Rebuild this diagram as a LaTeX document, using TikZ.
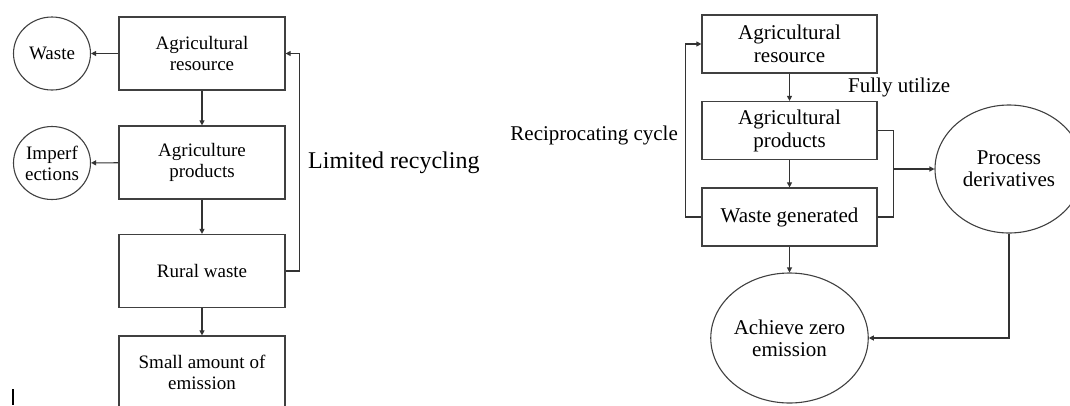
\documentclass[tikz,border=0pt]{standalone}
\usepackage{fontspec}
\setmainfont{Liberation Serif}
\usetikzlibrary{arrows.meta,shapes.geometric}
\begin{document}
\begin{tikzpicture}[x=1pt, y=-1pt,
    box/.style={draw=black!75, line width=1.2pt, minimum width=166pt, minimum height=73pt,
      align=center, inner sep=0pt, font=\fontsize{19}{21}\selectfont},
    rbox/.style={box, minimum width=175pt, minimum height=58pt, font=\fontsize{21}{23}\selectfont},
    blob/.style={draw=black!75, line width=1.1pt, ellipse, align=center, inner sep=0pt},
    arr/.style={-{Triangle[length=5pt,width=5pt]}, line width=1.1pt, draw=black!80}]
  \useasboundingbox (0,0) rectangle (1070,405);

  % left: limited recycling
  \node[box] (res) at (202,53.5) {Agricultural\\resource};
  \node[box] (prod) at (202,162.5) {Agriculture\\products};
  \node[box] (rural) at (202,271) {Rural waste};
  \node[box] (emis) at (202,372.5) {Small amount of\\emission};
  \node[blob, minimum width=77pt, minimum height=73pt, font=\fontsize{19}{21}\selectfont] (waste) at (52,53.5) {Waste};
  \node[blob, minimum width=77pt, minimum height=73pt, font=\fontsize{19}{21}\selectfont] (imperf) at (52,163) {Imperf\\ections};

  \draw[arr] (res) -- (waste);
  \draw[arr] (prod) -- (imperf);
  \draw[arr] (res) -- (prod);
  \draw[arr] (prod) -- (rural);
  \draw[arr] (rural) -- (emis);
  \draw[arr] (rural.east) -- ++(14,0) |- (res.east);
  \node[anchor=west, inner sep=0pt, font=\fontsize{24}{26}\selectfont] (limited) at (308,163) {Limited recycling};

  \draw[line width=1.6pt] (12.7,389) -- (12.7,405);

  % right: zero emission
  \node[rbox] (aRes) at (789.5,44) {Agricultural\\resource};
  \node[rbox] (aProd) at (789.5,130.5) {Agricultural\\products};
  \node[rbox] (generated) at (789.5,217) {Waste generated};
  \node[blob, minimum width=147pt, minimum height=130pt, font=\fontsize{21}{22}\selectfont] (zero) at (789.5,338) {Achieve zero\\emission};
  \node[blob, minimum width=148pt, minimum height=128pt, font=\fontsize{21}{22}\selectfont] (deriv) at (1009,169) {Process\\derivatives};

  \draw[arr] (aRes) -- (aProd);
  \draw[arr] (aProd) -- (generated);
  \draw[arr] (generated) -- (zero);
  \draw[arr] (generated.west) -- ++(-16,0) |- (aRes.west);
  \node[anchor=east, inner sep=0pt, font=\fontsize{21}{23}\selectfont] (recip) at (678,135) {Reciprocating cycle};
  \node[anchor=west, inner sep=0pt, font=\fontsize{21}{23}\selectfont] (fully) at (848,87) {Fully utilize};

  \coordinate (fork) at (893,169);
  \draw[line width=1.1pt, draw=black!80] (aProd.east) -- ++(16,0) |- (generated.east);
  \draw[arr, line width=1.6pt] (fork) -- (deriv);
  \draw[arr] (deriv.south) |- (zero.east);
\end{tikzpicture}
\end{document}
